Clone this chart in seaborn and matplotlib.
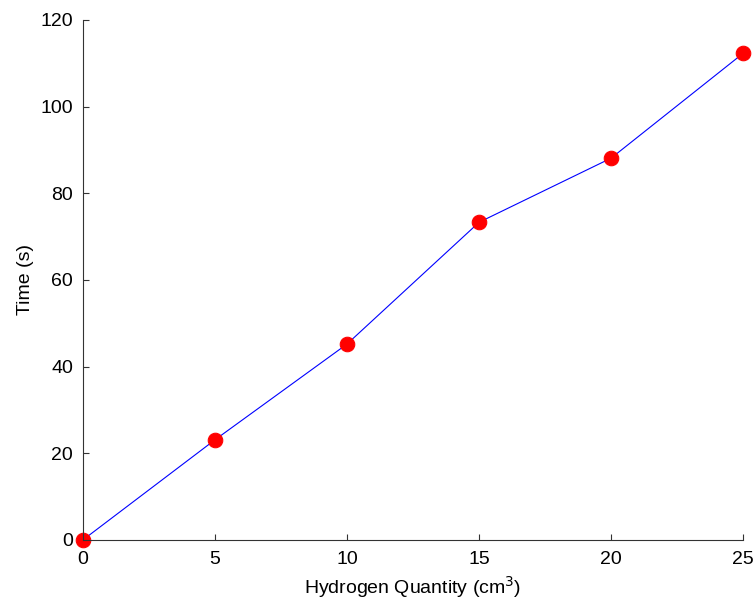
import matplotlib
matplotlib.use("Agg")
import matplotlib.pyplot as plt
import seaborn as sns
import pandas as pd

quantity = [0, 5, 10, 15, 20, 25]
time_s = [0, 23.1, 45.2, 73.3, 88.1, 112.3]
x_ticks = [0, 5, 10, 15, 20, 25]
y_ticks = [0, 20, 40, 60, 80, 100, 120]

sns.set_style("white")
plt.rcParams['font.family'] = ['Liberation Sans', 'DejaVu Sans']
plt.rcParams['text.color'] = 'black'
plt.rcParams['axes.labelcolor'] = 'black'

df = pd.DataFrame({"q": quantity, "t": time_s})

fig = plt.figure(figsize=(7.53, 6.02), dpi=100)
ax = fig.add_axes([0.110, 0.103, 0.877, 0.864])
sns.lineplot(data=df, x="q", y="t", ax=ax, color="blue", linewidth=0.8,
             marker="o", markersize=10.5, markerfacecolor="red",
             markeredgecolor="red", clip_on=False)
for l in ax.lines:
    l.set_clip_on(False)

ax.set_xlim(0, 25)
ax.set_ylim(0, 120)
ax.set_xticks(x_ticks)
ax.set_yticks(y_ticks)
ax.set_xlabel("Hydrogen Quantity (cm$^3$)", fontsize=14, color="black", labelpad=4)
ax.set_ylabel("Time (s)", fontsize=14, color="black", labelpad=5)
ax.tick_params(axis="both", direction="in", length=4, width=0.8, labelsize=14,
               colors="#333333", labelcolor="black", bottom=True, left=True)
ax.tick_params(axis="x", pad=8)
ax.tick_params(axis="y", pad=7)
for s in ["top", "right"]:
    ax.spines[s].set_visible(False)
for s in ["left", "bottom"]:
    ax.spines[s].set_color("#333333")
    ax.spines[s].set_linewidth(0.8)

fig.savefig("out.png", dpi=100)
